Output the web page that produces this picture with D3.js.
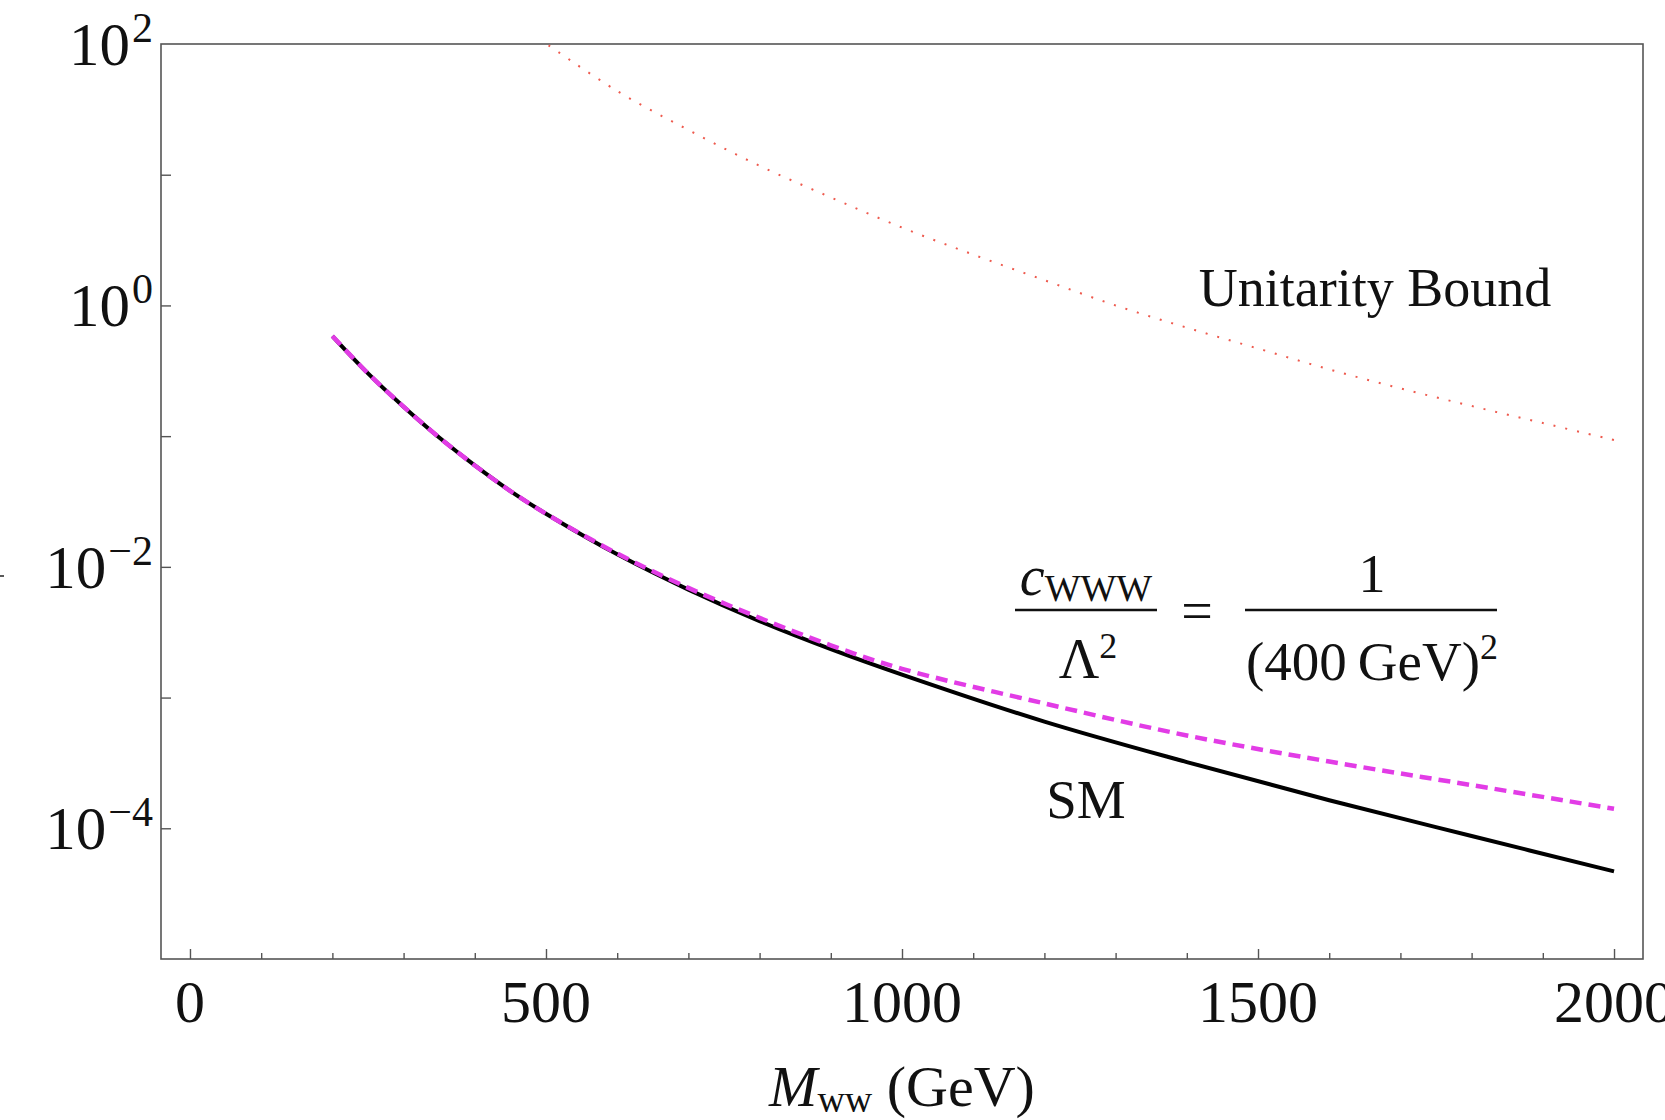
<!DOCTYPE html>
<html>
<head>
<meta charset="utf-8">
<script src="https://cdn.jsdelivr.net/npm/d3@7"></script>
<style>
  body { margin: 0; background: #fff; }
  text { font-family: "Liberation Serif", "Times New Roman", serif; fill: #111; }
</style>
</head>
<body>
<div id="chart"></div>
<script>
var width = 1665,
  height = 1120;

// x values (GeV) and curves
var massSM = [200, 250, 300, 350, 400, 450, 500, 600, 700, 800, 900, 1000, 1200, 1400, 1600, 1800, 2000];
var sigmaSM = [0.583, 0.302, 0.168, 0.0977, 0.0597, 0.0380, 0.0255, 0.01247, 0.00670, 0.00385, 0.00235,
  0.00150, 0.000655, 0.000321, 0.000164, 0.0000873, 0.0000468];
var sigmaWWW = [0.583, 0.302, 0.168, 0.0977, 0.0597, 0.0380, 0.0255, 0.01265, 0.00690, 0.00407, 0.00251,
  0.00166, 0.000902, 0.000513, 0.000324, 0.000214, 0.000141];

var massU = [490, 600, 700, 800, 900, 1000, 1100, 1200, 1300, 1400, 1500, 1600, 1700, 1800, 1900, 2000];
var sigmaU = [110, 43.7, 22.0, 11.7, 6.71, 3.94, 2.45, 1.56, 1.0, 0.676, 0.468, 0.324, 0.232, 0.170, 0.126, 0.0933];

var xMajor = [0, 500, 1000, 1500, 2000];
var yLabels = [{ v: 1e2, e: "2" }, { v: 1e0, e: "0" }, { v: 1e-2, e: "\u22122" }, { v: 1e-4, e: "\u22124" }];
var yTicks = [1e1, 1e0, 1e-1, 1e-2, 1e-3, 1e-4];

var pLeft = 161, pRight = 1643, pTop = 44, pBottom = 959;

var x = d3.scaleLinear().domain([-40.7, 2040.7]).range([pLeft, pRight]);
var y = d3.scaleLog().domain([1e-5, 1e2]).range([pBottom, pTop]);

var svg = d3.select("#chart").append("svg")
  .attr("width", width)
  .attr("height", height);

svg.append("defs").append("clipPath")
  .attr("id", "plot")
  .append("rect")
  .attr("x", pLeft).attr("y", pTop)
  .attr("width", pRight - pLeft).attr("height", pBottom - pTop);

// frame
svg.append("rect")
  .attr("x", pLeft).attr("y", pTop)
  .attr("width", pRight - pLeft).attr("height", pBottom - pTop)
  .attr("fill", "none")
  .attr("stroke", "#555")
  .attr("stroke-width", 1.6);

// x ticks, pointing up
var xAxis = d3.axisTop(x).tickValues(d3.range(0, 2001, 100))
  .tickSize(0).tickFormat("");
var gx = svg.append("g").attr("transform", "translate(0," + pBottom + ")").call(xAxis);
gx.select(".domain").remove();
gx.selectAll(".tick line")
  .attr("y2", function(d) { return d % 500 === 0 ? -10 : -6; })
  .attr("stroke", "#555")
  .attr("stroke-width", 1.4);

svg.append("g").selectAll("text")
  .data(xMajor)
  .enter().append("text")
  .attr("x", function(d) { return x(d); })
  .attr("y", 1022)
  .attr("text-anchor", "middle")
  .style("font-size", "60px")
  .text(function(d) { return d; });

// y ticks, pointing right
var yAxis = d3.axisRight(y).tickValues(yTicks).tickSize(10).tickFormat("");
var gy = svg.append("g").attr("transform", "translate(" + pLeft + ",0)").call(yAxis);
gy.select(".domain").remove();
gy.selectAll(".tick line").attr("stroke", "#555").attr("stroke-width", 1.4);

var yl = svg.append("g").selectAll("text")
  .data(yLabels)
  .enter().append("text")
  .attr("x", 153)
  .attr("y", function(d) { return y(d.v) + 21; })
  .attr("text-anchor", "end");
yl.append("tspan").style("font-size", "61px").text("10");
yl.append("tspan").attr("dx", 2).attr("dy", -23).style("font-size", "42px").text(function(d) { return d.e; });

// stray mark at the left edge
svg.append("line")
  .attr("x1", 0).attr("x2", 4).attr("y1", 576).attr("y2", 576)
  .attr("stroke", "#222").attr("stroke-width", 1.5);

// curves
var plot = svg.append("g").attr("clip-path", "url(#plot)");

var line = d3.line()
  .x(function(d) { return x(d[0]); })
  .y(function(d) { return y(d[1]); })
  .curve(d3.curveCatmullRom.alpha(0.5));

plot.append("path")
  .datum(d3.zip(massU, sigmaU))
  .attr("d", line)
  .attr("fill", "none")
  .attr("stroke", "#ee5a4e")
  .attr("stroke-width", 2)
  .attr("stroke-dasharray", "2,10");

plot.append("path")
  .datum(d3.zip(massSM, sigmaSM))
  .attr("d", line)
  .attr("fill", "none")
  .attr("stroke", "#000")
  .attr("stroke-width", 4);

plot.append("path")
  .datum(d3.zip(massSM, sigmaWWW))
  .attr("d", line)
  .attr("fill", "none")
  .attr("stroke", "#e23ce6")
  .attr("stroke-width", 4.5)
  .attr("stroke-dasharray", "12,7");

// labels
svg.append("text")
  .attr("x", 1375).attr("y", 306)
  .attr("text-anchor", "middle")
  .style("font-size", "54px")
  .text("Unitarity Bound");

svg.append("text")
  .attr("x", 1086).attr("y", 818)
  .attr("text-anchor", "middle")
  .style("font-size", "55px")
  .text("SM");

// formula c_WWW / Lambda^2 = 1 / (400 GeV)^2
var num = svg.append("text")
  .attr("x", 1086).attr("y", 595)
  .attr("text-anchor", "middle");
num.append("tspan").style("font-size", "56px").style("font-style", "italic").text("c");
num.append("tspan").attr("dy", 6).style("font-size", "38px").text("WWW");

svg.append("line")
  .attr("x1", 1015).attr("x2", 1157).attr("y1", 610).attr("y2", 610)
  .attr("stroke", "#111").attr("stroke-width", 2.4);

var den = svg.append("text")
  .attr("x", 1088).attr("y", 678)
  .attr("text-anchor", "middle");
den.append("tspan").style("font-size", "56px").text("\u039B");
den.append("tspan").attr("dy", -20).style("font-size", "36px").text("2");

svg.append("text")
  .attr("x", 1197).attr("y", 630)
  .attr("text-anchor", "middle")
  .style("font-size", "56px")
  .text("=");

svg.append("text")
  .attr("x", 1372).attr("y", 592)
  .attr("text-anchor", "middle")
  .style("font-size", "54px")
  .text("1");

svg.append("line")
  .attr("x1", 1245).attr("x2", 1497).attr("y1", 610).attr("y2", 610)
  .attr("stroke", "#111").attr("stroke-width", 2.4);

var den2 = svg.append("text")
  .attr("x", 1372).attr("y", 680)
  .attr("text-anchor", "middle");
den2.append("tspan").style("font-size", "55px").text("(400\u2009GeV)");
den2.append("tspan").attr("dy", -21).style("font-size", "36px").text("2");

// x title
var xt = svg.append("text")
  .attr("x", 902).attr("y", 1106)
  .attr("text-anchor", "middle");
xt.append("tspan").style("font-size", "58px").style("font-style", "italic").text("M");
xt.append("tspan").attr("dy", 6).style("font-size", "38px").text("ww");
xt.append("tspan").attr("dy", -6).style("font-size", "58px").text(" (GeV)");
</script>
</body>
</html>
